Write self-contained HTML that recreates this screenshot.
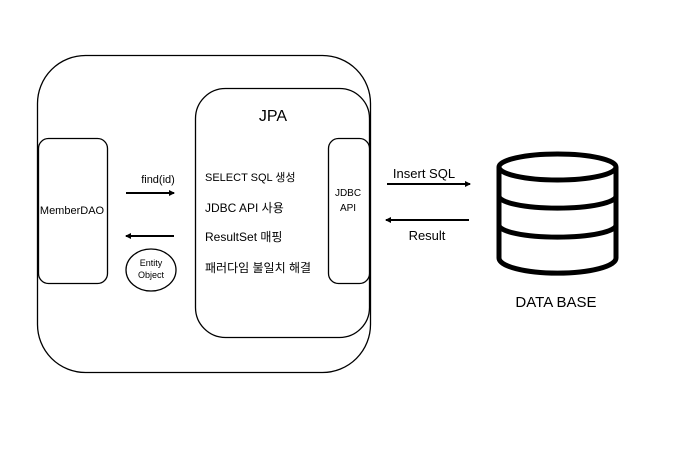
<!DOCTYPE html>
<html><head><meta charset="utf-8"><style>
body{margin:0;background:#fff}
text{font-family:"Liberation Sans","Noto Sans CJK KR",sans-serif;fill:#000}
</style></head><body>
<svg width="675" height="467" viewBox="0 0 675 467" xmlns="http://www.w3.org/2000/svg">
<defs><marker id="a" markerWidth="6" markerHeight="6" refX="5" refY="3" orient="auto" markerUnits="userSpaceOnUse"><path d="M0,0 L6,3 L0,6 z" fill="#000"/></marker></defs>
<rect x="37.5" y="55.5" width="333" height="317" rx="48" fill="none" stroke="#000" stroke-width="1.3"/>
<rect x="195.5" y="88.5" width="174" height="249" rx="30" fill="#fff" stroke="#000" stroke-width="1.3"/>
<rect x="38.5" y="138.5" width="69" height="145" rx="10" fill="#fff" stroke="#000" stroke-width="1.3"/>
<rect x="328.5" y="138.5" width="41" height="145" rx="10" fill="#fff" stroke="#000" stroke-width="1.3"/>
<text x="273" y="121" font-size="16" text-anchor="middle">JPA</text>
<text x="72" y="214" font-size="11" text-anchor="middle">MemberDAO</text>
<text x="348" y="196" font-size="10" text-anchor="middle">JDBC</text>
<text x="348" y="211" font-size="10" text-anchor="middle">API</text>
<text x="158" y="183" font-size="11" text-anchor="middle">find(id)</text>
<line x1="126" y1="193" x2="174" y2="193" stroke="#000" stroke-width="2" marker-end="url(#a)"/>
<line x1="174" y1="236" x2="126" y2="236" stroke="#000" stroke-width="2" marker-end="url(#a)"/>
<ellipse cx="151" cy="270" rx="25" ry="21" fill="#fff" stroke="#000" stroke-width="1.3"/>
<text x="151" y="266" font-size="9" text-anchor="middle">Entity</text>
<text x="151" y="278" font-size="9" text-anchor="middle">Object</text>
<text x="205" y="181" font-size="11">SELECT SQL 생성</text>
<text x="205" y="212" font-size="12">JDBC API 사용</text>
<text x="205" y="241" font-size="12">ResultSet 매핑</text>
<text x="205" y="272" font-size="12">패러다임 불일치 해결</text>
<text x="424" y="178" font-size="13" text-anchor="middle">Insert SQL</text>
<line x1="387" y1="184" x2="470" y2="184" stroke="#000" stroke-width="2" marker-end="url(#a)"/>
<line x1="469" y1="220" x2="386" y2="220" stroke="#000" stroke-width="2" marker-end="url(#a)"/>
<text x="427" y="240" font-size="13" text-anchor="middle">Result</text>
<g fill="none" stroke="#000" stroke-width="5">
<path d="M499,167 L499,258 A58,15 0 0 0 616,258 L616,167"/>
<ellipse cx="557.5" cy="167" rx="58.5" ry="13"/>
<path d="M499,196 A58,12 0 0 0 616,196"/>
<path d="M499,225 A58,12 0 0 0 616,225"/>
</g>
<text x="556" y="307" font-size="15" text-anchor="middle">DATA BASE</text>
</svg>
</body></html>
